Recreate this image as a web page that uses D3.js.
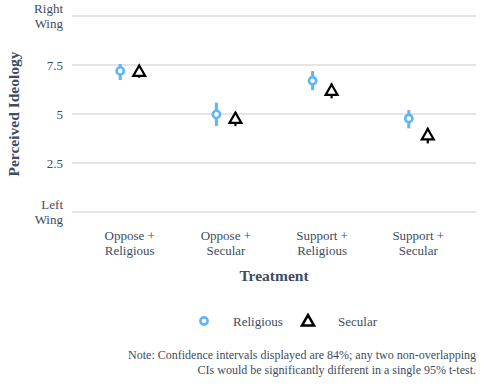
<!DOCTYPE html>
<html>
<head>
<meta charset="utf-8">
<script src="https://cdn.jsdelivr.net/npm/d3@7"></script>
<style>
  body { margin: 0; background: #fff; }
  svg text { font-family: "Liberation Serif", "DejaVu Serif", serif; }
</style>
</head>
<body>
<svg id="chart" width="484" height="387"></svg>
<script>
var TREATMENTS = ['Oppose + Religious', 'Oppose + Secular', 'Support + Religious', 'Support + Secular'];
var GROUPS = ['Religious', 'Secular'];

// point estimates and 84% CI bounds
var RELIGIOUS_MEAN = [7.2, 4.98, 6.70, 4.77];
var RELIGIOUS_LO = [6.73, 4.39, 6.22, 4.27];
var RELIGIOUS_HI = [7.55, 5.58, 7.19, 5.2];
var SECULAR_MEAN = [7.17, 4.77, 6.2, 3.93];
var SECULAR_LO = [6.85, 4.38, 5.8, 3.5];
var SECULAR_HI = [7.45, 5.1, 6.55, 4.3];

var Y_TICKS = [0, 2.5, 5, 7.5, 10];
var Y_LABELS = ['Left\nWing', '2.5', '5', '7.5', 'Right\nWing'];

var FONT = '"Liberation Serif", "DejaVu Serif", serif';
var TEXT_COL = '#3d4c5e';
var BLUE = '#62b4f8';

var svg = d3.select('#chart');
var margin = { top: 16, right: 8, bottom: 175, left: 72 };
var width = 484 - margin.left - margin.right;
var height = 387 - margin.top - margin.bottom;

var g = svg.append('g')
    .attr('transform', 'translate(' + margin.left + ',' + margin.top + ')');

var x = d3.scalePoint().domain(TREATMENTS).range([0, width]).padding(0.6);
var y = d3.scaleLinear().domain([0, 10]).range([height, 0]);
var DODGE = 9.5;

// grid
g.selectAll('.grid')
    .data(Y_TICKS)
  .enter().append('line')
    .attr('x1', 0).attr('x2', width)
    .attr('y1', (d) => y(d)).attr('y2', (d) => y(d))
    .attr('stroke', '#dcdcdc').attr('stroke-width', 1.4);

// y tick labels
Y_TICKS.forEach(function(t, i) {
  var lines = Y_LABELS[i].split('\n');
  var txt = g.append('text')
      .attr('x', -9)
      .attr('y', y(t))
      .attr('text-anchor', 'end')
      .attr('font-family', FONT)
      .attr('fill', TEXT_COL)
      .attr('font-size', 13);
  lines.forEach(function(l, j) {
    txt.append('tspan')
        .attr('x', -9)
        .attr('dy', j === 0 ? (0.35 - (lines.length - 1) * 0.6) + 'em' : '1.2em')
        .text(l);
  });
});

// x tick labels
TREATMENTS.forEach(function(t) {
  var parts = t.split(' + ');
  var txt = g.append('text')
      .attr('text-anchor', 'middle')
      .attr('font-family', FONT)
      .attr('fill', TEXT_COL)
      .attr('font-size', 13);
  txt.append('tspan').attr('x', x(t)).attr('y', height + 28).text(parts[0] + ' +');
  txt.append('tspan').attr('x', x(t)).attr('y', height + 43).text(parts[1]);
});

// axis titles
g.append('text')
    .attr('x', width / 2).attr('y', height + 69)
    .attr('text-anchor', 'middle')
    .attr('font-family', FONT)
    .attr('fill', TEXT_COL)
    .attr('font-size', 15.5).attr('font-weight', 'bold')
    .text('Treatment');

svg.append('text')
    .attr('transform', 'translate(19,' + (margin.top + height / 2) + ') rotate(-90)')
    .attr('text-anchor', 'middle')
    .attr('font-family', FONT)
    .attr('fill', TEXT_COL)
    .attr('font-size', 15.5).attr('font-weight', 'bold')
    .text('Perceived Ideology');

var religious = TREATMENTS.map((t, i) => ({ t: t, m: RELIGIOUS_MEAN[i], lo: RELIGIOUS_LO[i], hi: RELIGIOUS_HI[i] }));
var secular = TREATMENTS.map((t, i) => ({ t: t, m: SECULAR_MEAN[i], lo: SECULAR_LO[i], hi: SECULAR_HI[i] }));

var tri = d3.symbol().type(d3.symbolTriangle).size(62);

// religious: error bars + open circles
g.selectAll('.rel-ci')
    .data(religious)
  .enter().append('line')
    .attr('x1', (d) => x(d.t) - DODGE).attr('x2', (d) => x(d.t) - DODGE)
    .attr('y1', (d) => y(d.lo)).attr('y2', (d) => y(d.hi))
    .attr('stroke', BLUE).attr('stroke-width', 3);

g.selectAll('.rel-pt')
    .data(religious)
  .enter().append('circle')
    .attr('cx', (d) => x(d.t) - DODGE).attr('cy', (d) => y(d.m))
    .attr('r', 3.6)
    .attr('fill', '#fff').attr('stroke', BLUE).attr('stroke-width', 2.6);

// secular: error bars + open triangles
g.selectAll('.sec-ci')
    .data(secular)
  .enter().append('line')
    .attr('x1', (d) => x(d.t) + DODGE).attr('x2', (d) => x(d.t) + DODGE)
    .attr('y1', (d) => y(d.lo)).attr('y2', (d) => y(d.hi))
    .attr('stroke', '#000').attr('stroke-width', 2.2);

g.selectAll('.sec-pt')
    .data(secular)
  .enter().append('path')
    .attr('d', tri)
    .attr('transform', (d) => 'translate(' + (x(d.t) + DODGE) + ',' + (y(d.m) + 1) + ')')
    .attr('fill', '#fff').attr('stroke', '#000').attr('stroke-width', 2.2);

// legend
var legY = 321;
svg.append('circle')
    .attr('cx', 204).attr('cy', legY).attr('r', 3.6)
    .attr('fill', '#fff').attr('stroke', BLUE).attr('stroke-width', 2.6);
svg.append('text')
    .attr('x', 233).attr('y', legY).attr('dy', '0.35em')
    .attr('font-family', FONT)
    .attr('fill', TEXT_COL).attr('font-size', 13)
    .text(GROUPS[0]);
svg.append('path')
    .attr('d', tri)
    .attr('transform', 'translate(308,' + (legY + 1) + ')')
    .attr('fill', '#fff').attr('stroke', '#000').attr('stroke-width', 2.6);
svg.append('text')
    .attr('x', 338).attr('y', legY).attr('dy', '0.35em')
    .attr('font-family', FONT)
    .attr('fill', TEXT_COL).attr('font-size', 13)
    .text(GROUPS[1]);

// note
var note = svg.append('text')
    .attr('text-anchor', 'end')
    .attr('font-family', FONT)
    .attr('fill', TEXT_COL)
    .attr('font-size', 12);
note.append('tspan').attr('x', 476).attr('y', 359)
    .text('Note: Confidence intervals displayed are 84%; any two non-overlapping');
note.append('tspan').attr('x', 476).attr('y', 374)
    .text('CIs would be significantly different in a single 95% t-test.');
</script>
</body>
</html>
